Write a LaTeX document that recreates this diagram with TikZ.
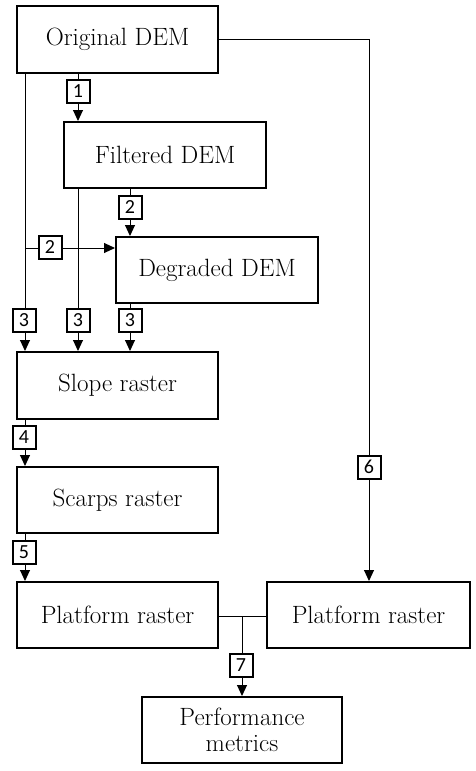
\documentclass[tikz,border=0pt]{standalone}
\usepackage{fontspec}
\newfontfamily\labfont{Carlito}
\usetikzlibrary{arrows.meta}
\begin{document}
\begin{tikzpicture}[x=1pt,y=-1pt,
  box/.style={draw,line width=2pt,rectangle,inner sep=0pt,align=center,
    font=\rmfamily\fontsize{25}{25.5}\selectfont},
  lab/.style={draw,line width=2pt,fill=white,rectangle,inner sep=0pt,
    minimum width=23pt,minimum height=23pt,font=\labfont\fontsize{20}{20}\selectfont},
  conn/.style={line width=1pt},
  arr/.style={conn,-{Triangle[length=11pt,width=10pt]}}]
\useasboundingbox (0,0) rectangle (476,771);
% boxes
\node[box,minimum width=201pt,minimum height=67pt] (orig) at (117.5,39.5) {Original DEM};
\node[box,minimum width=202pt,minimum height=66pt] (filt) at (165,155) {Filtered DEM};
\node[box,minimum width=202pt,minimum height=66pt] (degr) at (217,270) {Degraded DEM};
\node[box,minimum width=201pt,minimum height=67pt] (slope) at (117.5,385.5) {Slope raster};
\node[box,minimum width=201pt,minimum height=66pt] (scarps) at (117.5,500) {Scarps raster};
\node[box,minimum width=201pt,minimum height=66pt] (platL) at (117.5,615) {Platform raster};
\node[box,minimum width=203pt,minimum height=66pt] (platR) at (368.5,615) {Platform raster};
\node[box,minimum width=200pt,minimum height=66pt] (perf) at (242,730) {Performance\\metrics};
% guide coordinates
\coordinate (xa) at (25,0);
\coordinate (xb) at (78,0);
\coordinate (xc) at (130,0);
\coordinate (xd) at (369,0);
\coordinate (xe) at (242,0);
\coordinate (yh) at (0,248);
\coordinate (ym) at (0,616);
% connectors
\draw[arr] (xb |- orig.south) -- (xb |- filt.north);
\draw[arr] (xa |- orig.south) -- (xa |- slope.north);
\draw[arr] (xa |- yh) -- (degr.west |- yh);
\draw[arr] (xb |- filt.south) -- (xb |- slope.north);
\draw[arr] (xc |- filt.south) -- (xc |- degr.north);
\draw[arr] (xc |- degr.south) -- (xc |- slope.north);
\draw[arr] (xa |- slope.south) -- (xa |- scarps.north);
\draw[arr] (xa |- scarps.south) -- (xa |- platL.north);
\draw[arr] (orig.east) -- (xd |- orig.east) -- (xd |- platR.north);
\draw[conn] (platL.east |- ym) -- (platR.west |- ym);
\draw[arr] (xe |- ym) -- (xe |- perf.north);
% labels
\node[lab] (l1) at (78,91) {1};
\node[lab] (l2a) at (130,207) {2};
\node[lab] (l2b) at (50,247) {2};
\node[lab] (l3a) at (24,320) {3};
\node[lab] (l3b) at (78,320) {3};
\node[lab] (l3c) at (130,320) {3};
\node[lab] (l4) at (24,437) {4};
\node[lab] (l5) at (24,552) {5};
\node[lab] (l6) at (369,467) {6};
\node[lab] (l7) at (241,665) {7};
\end{tikzpicture}
\end{document}
